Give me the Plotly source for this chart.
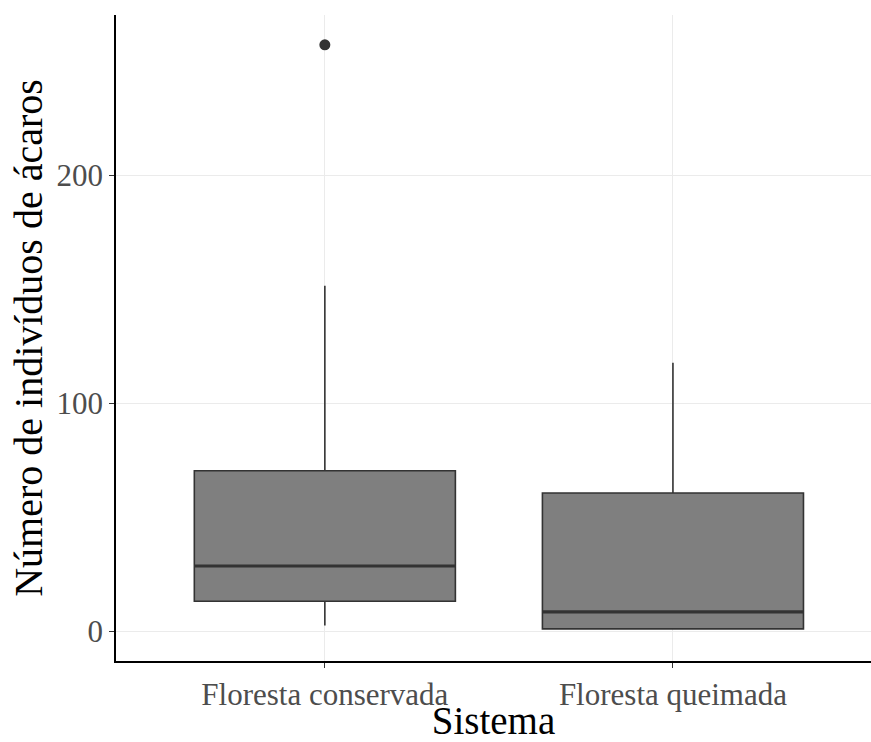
import plotly.graph_objects as go

categories = ["Floresta conservada", "Floresta queimada"]
q1 = [13.1, 1.0]
median = [28.6, 8.5]
q3 = [70.4, 60.6]
lower = [2.5, 1.0]
upper = [151.6, 117.8]
outlier_cat = ["Floresta conservada"]
outlier_val = [257.3]

fig = go.Figure()
fig.add_trace(go.Box(
    x=categories, q1=q1, median=median, q3=q3,
    lowerfence=lower, upperfence=upper, width=0.75,
    fillcolor="#7F7F7F", line=dict(color="#333333", width=1.6),
    whiskerwidth=0, boxpoints=False, showlegend=False, hoverinfo="skip",
))
# thicker median segments (ggplot style)
for i, m in enumerate(median):
    fig.add_shape(type="line", xref="x", yref="y",
                  x0=i - 0.375, x1=i + 0.375,
                  y0=m, y1=m, line=dict(color="#333333", width=3.2))
fig.add_trace(go.Scatter(
    x=outlier_cat, y=outlier_val, mode="markers",
    marker=dict(color="#333333", size=11), showlegend=False, hoverinfo="skip",
))

fig.update_layout(
    width=871, height=742,
    margin=dict(l=116, r=0, t=15, b=81),
    plot_bgcolor="white", paper_bgcolor="white",
    font=dict(family="Liberation Serif", color="black"),
)
fig.update_xaxes(
    type="category", range=[-0.6, 1.569],
    showline=True, linecolor="black", linewidth=1.6,
    showgrid=True, gridcolor="#EBEBEB", gridwidth=1.2,
    ticks="outside", ticklen=5, tickcolor="#333333", tickwidth=1.2,
    tickfont=dict(size=31, color="#4D4D4D", family="Liberation Serif"),
    title=dict(text="Sistema", font=dict(size=39, color="black"), standoff=3),
    zeroline=False,
)
fig.update_yaxes(
    range=[-13.1, 270.4],
    tickvals=[0, 100, 200],
    showline=True, linecolor="black", linewidth=1.6,
    showgrid=True, gridcolor="#EBEBEB", gridwidth=1.2,
    ticks="outside", ticklen=5, tickcolor="#333333", tickwidth=1.2,
    tickfont=dict(size=31, color="#4D4D4D", family="Liberation Serif"),
    title=dict(text="Número de indivíduos de ácaros", font=dict(size=40, color="black"), standoff=2),
    zeroline=False,
)

fig.write_html("out.html")
